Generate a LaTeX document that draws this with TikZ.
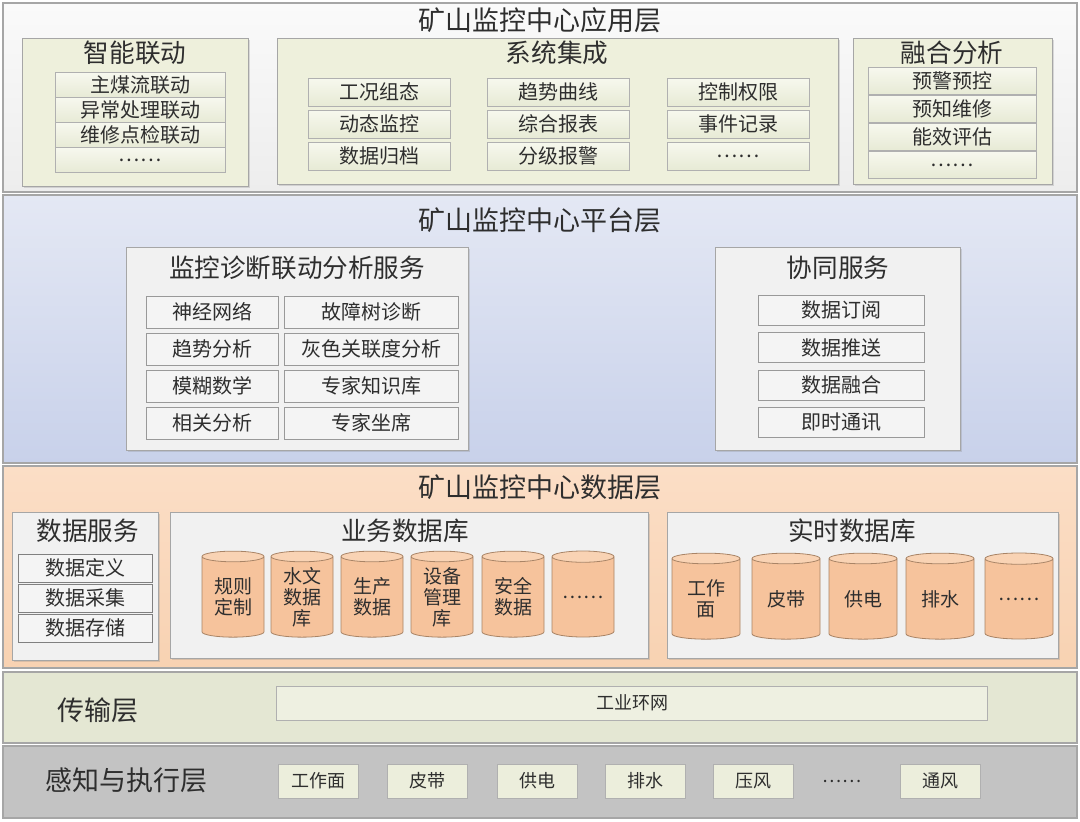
\documentclass[tikz,border=0pt]{standalone}
\usepackage{fontspec}
\setmainfont{Noto Sans CJK SC}
\usetikzlibrary{shapes.geometric,shadows}

\definecolor{framegray}{HTML}{A6A6A6}
\definecolor{itemline}{HTML}{B0B0B0}
\definecolor{textgray}{HTML}{2E2E2E}
\definecolor{apptop}{HTML}{FAFAFA}
\definecolor{appbot}{HTML}{EDEDED}
\definecolor{appgreen}{HTML}{EEF0DC}
\definecolor{greentop}{HTML}{F7F8EE}
\definecolor{greenbot}{HTML}{E7EAD5}
\definecolor{platetop}{HTML}{E4E8F4}
\definecolor{platebot}{HTML}{C8D1EA}
\definecolor{groupgray}{HTML}{F1F1F1}
\definecolor{plateitem}{HTML}{F4F4F4}
\definecolor{datatop}{HTML}{FBDEC6}
\definecolor{databot}{HTML}{F8D2B2}
\definecolor{cylbody}{HTML}{F6C39C}
\definecolor{cylend}{HTML}{F9D3B4}
\definecolor{cylline}{HTML}{A98466}
\definecolor{transbg}{HTML}{E4E7D3}
\definecolor{transbox}{HTML}{EEF0E1}
\definecolor{percbg}{HTML}{C3C3C3}
\definecolor{percitem}{HTML}{ECEEDC}

\tikzset{
  layer/.style={draw=framegray, line width=0.6pt},
  group/.style={draw=framegray, line width=0.5pt,
    drop shadow={shadow xshift=0.8pt, shadow yshift=-0.8pt, opacity=0.25}},
  layertitle/.style={text=textgray, font=\fontsize{13.5}{15}\selectfont},
  grouptitle/.style={text=textgray, font=\fontsize{12.8}{14}\selectfont},
  appitem/.style={draw=itemline, top color=greentop, bottom color=greenbot,
    inner sep=0pt, text=textgray, font=\fontsize{10}{11}\selectfont},
  plateitem/.style={draw=gray!80, fill=plateitem, inner sep=0pt,
    text=textgray, font=\fontsize{10}{12}\selectfont},
  db/.style={cylinder, shape border rotate=90, aspect=0.28, draw=cylline,
    cylinder uses custom fill, cylinder body fill=cylbody, cylinder end fill=cylend,
    align=center, inner sep=0pt, text=textgray,
    font=\fontsize{9.5}{10.5}\selectfont},
  fielditem/.style={draw=itemline, fill=percitem, inner sep=0pt,
    text=textgray, font=\fontsize{9}{11}\selectfont}
}

\begin{document}
\begin{tikzpicture}[x=0.5pt,y=-0.5pt]
\useasboundingbox (0,0) rectangle (1080,821);
\fill[white] (0,0) rectangle (1080,821);

% ===== 应用层 =====
\draw[layer, top color=apptop, bottom color=appbot] (3,3) rectangle (1077,192);
\node[layertitle] (apptitle) at (540,20) {矿山监控中心应用层};

\draw[group, fill=appgreen] (22,38) rectangle (248,186);
\node[grouptitle] (linktitle) at (135,53) {智能联动};
\foreach \t [count=\i] in {主煤流联动,异常处理联动,维修点检联动,……} {
    \node[appitem, minimum width=85pt, minimum height=12.5pt] (link\i) at (140,60+25*\i) {\t};
}

\draw[group, fill=appgreen] (277,38) rectangle (838,184);
\node[grouptitle] (systitle) at (557,53) {系统集成};
\foreach \t [count=\i from 0] in {工况组态,趋势曲线,控制权限,动态监控,综合报表,事件记录,数据归档,分级报警,……} {
    \pgfmathtruncatemacro\c{mod(\i,3)}
    \pgfmathtruncatemacro\r{div(\i,3)}
    \node[appitem, minimum width=71pt, minimum height=14pt] (sys\i) at (379+179.5*\c,92+32*\r) {\t};
}

\draw[group, fill=appgreen] (853,38) rectangle (1052,184);
\node[grouptitle] (fusetitle) at (952,53) {融合分析};
\foreach \t [count=\i] in {预警预控,预知维修,能效评估,……} {
    \node[appitem, minimum width=84pt, minimum height=13.5pt] (fuse\i) at (952,53+28*\i) {\t};
}

% ===== 平台层 =====
\draw[layer, top color=platetop, bottom color=platebot] (3,195) rectangle (1077,463);
\node[layertitle] (plattitle) at (540,220) {矿山监控中心平台层};

\draw[group, fill=groupgray] (126,247) rectangle (468,450);
\node[grouptitle] (diagtitle) at (297,268) {监控诊断联动分析服务};
\foreach \t [count=\i] in {神经网络,趋势分析,模糊数学,相关分析} {
    \node[plateitem, minimum width=66pt, minimum height=16pt] (diagl\i) at (212,275+37*\i) {\t};
}
\foreach \t [count=\i] in {故障树诊断,灰色关联度分析,专家知识库,专家坐席} {
    \node[plateitem, minimum width=87pt, minimum height=16pt] (diagr\i) at (371,275+37*\i) {\t};
}

\draw[group, fill=groupgray] (715,247) rectangle (960,450);
\node[grouptitle] (cooptitle) at (838,268) {协同服务};
\foreach \t [count=\i] in {数据订阅,数据推送,数据融合,即时通讯} {
    \node[plateitem, minimum width=83pt, minimum height=15pt] (coop\i) at (841,273+37.3*\i) {\t};
}

% ===== 数据层 =====
\draw[layer, top color=datatop, bottom color=databot] (3,466) rectangle (1077,668);
\node[layertitle] (datatitle) at (540,487) {矿山监控中心数据层};

\draw[group, fill=groupgray] (12,512) rectangle (158,660);
\node[grouptitle] (dstitle) at (88,531) {数据服务};
\foreach \t [count=\i] in {数据定义,数据采集,数据存储} {
    \node[plateitem, minimum width=67pt, minimum height=14pt, draw=gray] (ds\i) at (85,538+30*\i) {\t};
}

\draw[group, fill=groupgray] (170,512) rectangle (648,658);
\node[grouptitle] (bizdb) at (405,531) {业务数据库};
\foreach \t/\x [count=\i] in {规则\\定制/233, 水文\\数据\\库/302, 生产\\数据/372, 设备\\管理\\库/442, 安全\\数据/513, ……/583} {
    \node[db, minimum width=31pt, minimum height=43pt] (biz\i) at (\x,597) {\t};
}

\draw[group, fill=groupgray] (667,512) rectangle (1058,658);
\node[grouptitle] (rtdb) at (852,531) {实时数据库};
\foreach \t/\x [count=\i] in {工作\\面/706, 皮带/786, 供电/863, 排水/940, ……/1019} {
    \node[db, minimum width=34pt, minimum height=43pt] (rt\i) at (\x,599) {\t};
}

% ===== 传输层 =====
\draw[layer, fill=transbg] (3,672) rectangle (1077,743);
\node[layertitle] (transtitle) at (98,710) {传输层};
\node[fielditem, fill=transbox, minimum width=355.5pt, minimum height=17pt] (ring) at (632,703) {工业环网};

% ===== 感知与执行层 =====
\draw[layer, fill=percbg] (3,746) rectangle (1077,818);
\node[layertitle] (perctitle) at (126,780) {感知与执行层};
\foreach \t/\x [count=\i] in {工作面/318, 皮带/427, 供电/537, 排水/645, 压风/753, 通风/940} {
    \node[fielditem, minimum width=40pt, minimum height=17pt] (field\i) at (\x,781) {\t};
}
\node[text=textgray, font=\fontsize{9}{11}\selectfont] (fielddots) at (842,781) {……};

\end{tikzpicture}
\end{document}
